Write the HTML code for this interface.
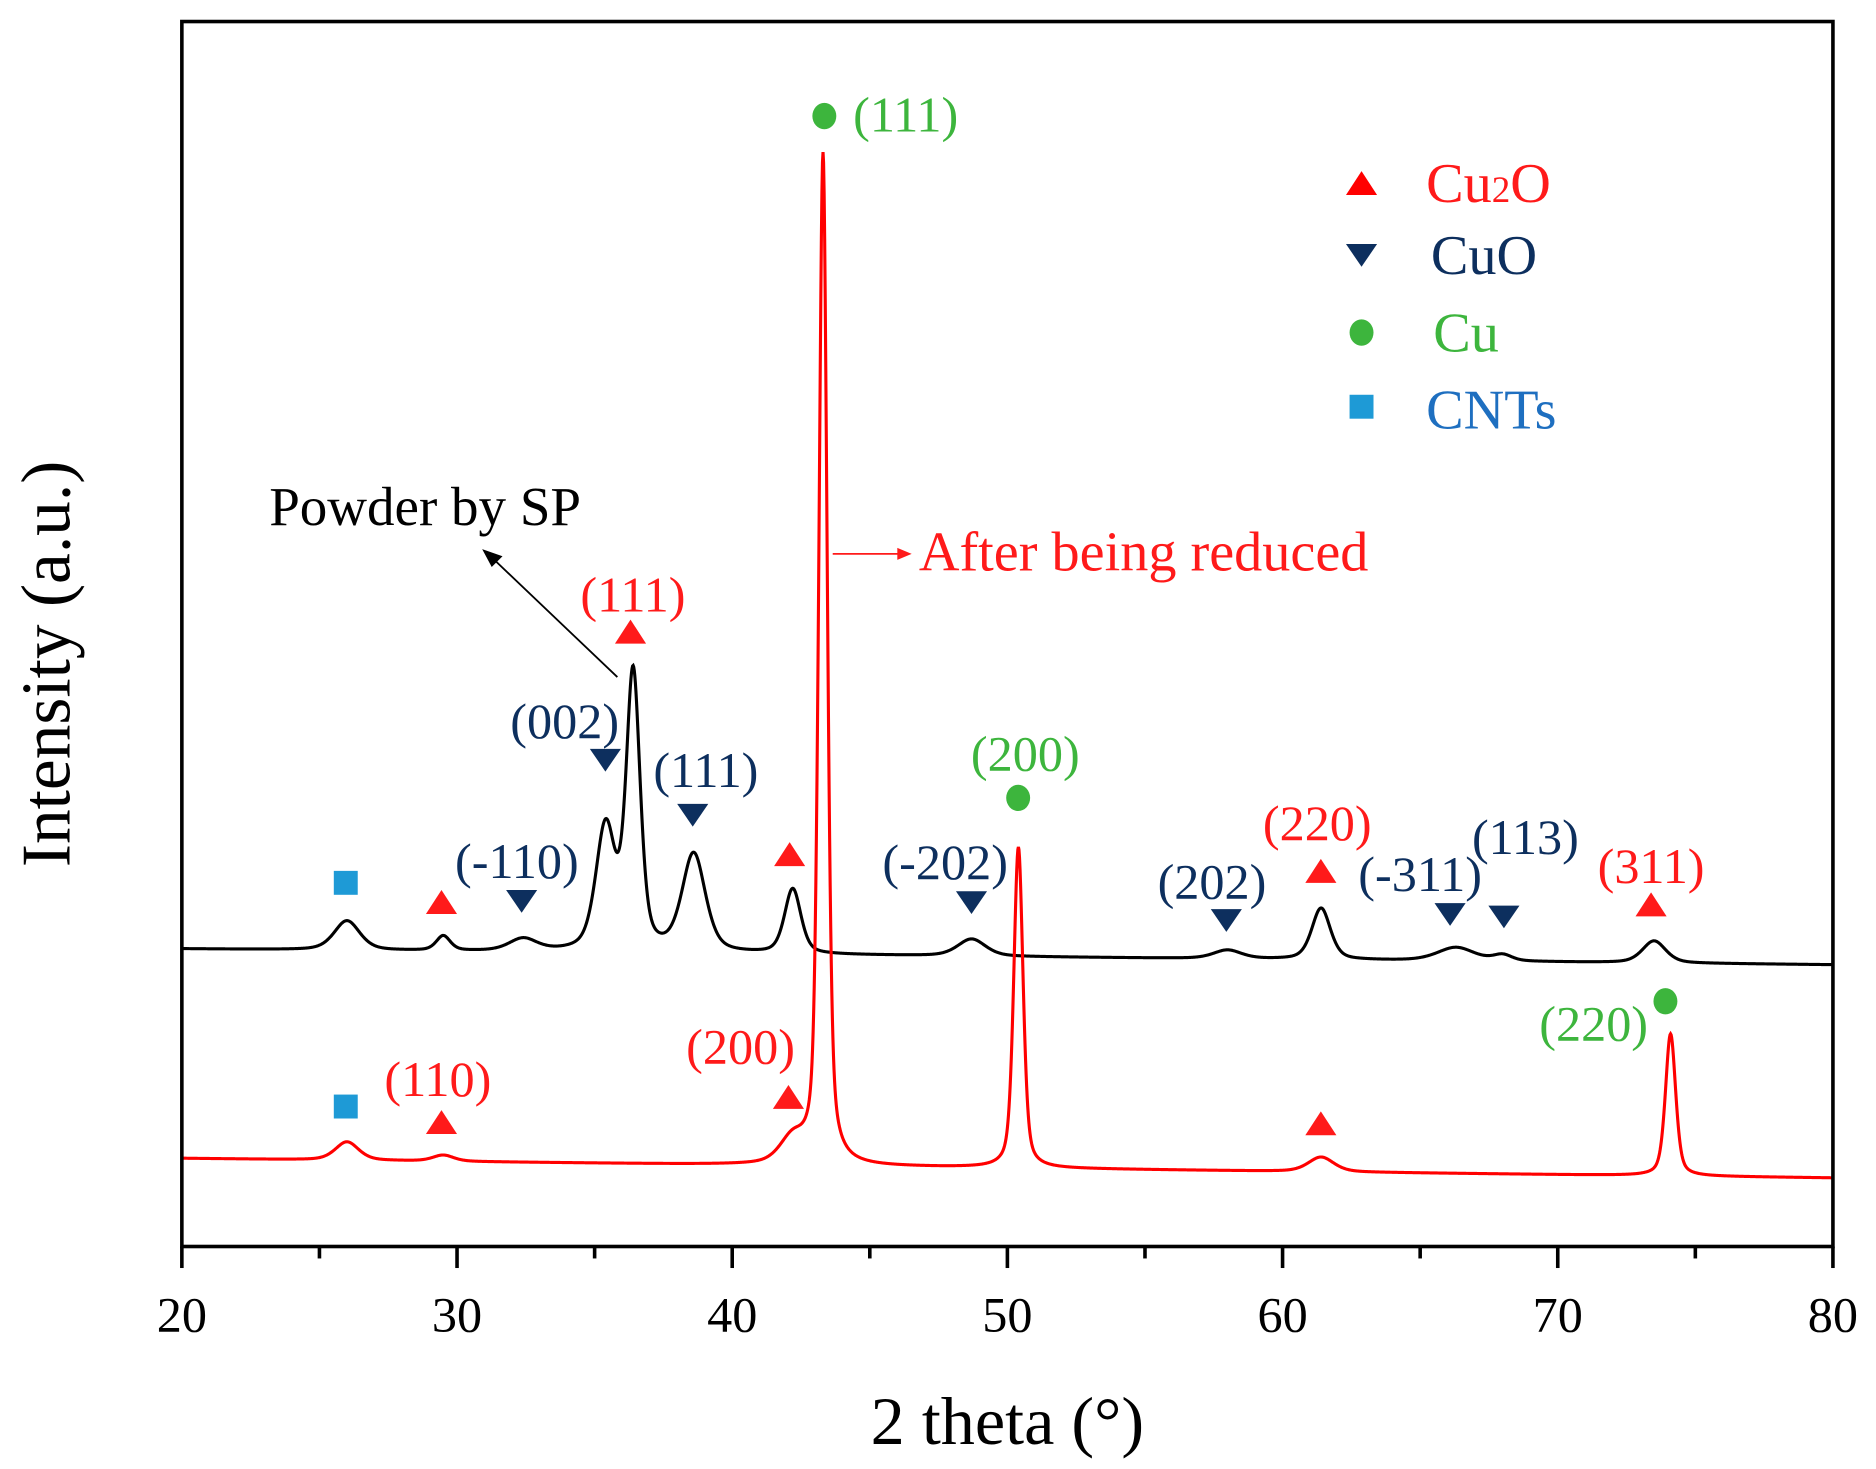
<!DOCTYPE html>
<html><head><meta charset="utf-8"><style>
html,body{margin:0;padding:0;background:#fff;}
svg{display:block;font-family:"Liberation Serif",serif;}
</style></head><body>
<svg id="chart" width="1876" height="1469" viewBox="0 0 1568 1228" preserveAspectRatio="none" xmlns="http://www.w3.org/2000/svg">
<rect x="0" y="0" width="1568" height="1228" fill="#fff"/>
<g id="curves"></g>
<g id="axes"></g>
<g id="annots"></g>
</svg>
<script>
// ---- data ----
const xTicks = [20,30,40,50,60,70,80];
const xMinor = [25,35,45,55,65,75];
// black: Powder by SP
const blackBase = [243, 230];
const blackCenters = [26.0, 29.5, 32.4, 35.4, 36.4, 38.6, 42.2, 48.7, 58.0, 61.4, 66.3, 68.0, 73.5];
const blackHeights = [24, 12, 10, 100, 225, 80, 53, 14, 7, 42, 11, 5, 18];
const blackWidths  = [0.55,0.3,0.6,0.42,0.3,0.5,0.35,0.6,0.6,0.4,0.8,0.4,0.5];
// red: After being reduced
const redBase = [72, 56];
const redCenters = [26.0, 29.5, 42.2, 43.3, 50.4, 61.4, 74.1];
const redHeights = [15, 5, 20, 825, 262, 12, 116];
const redWidths  = [0.5, 0.45, 0.55, 0.18, 0.2, 0.55, 0.22];

const NS="http://www.w3.org/2000/svg";
const X0=152,X1=1532,Y0=1042,Y1=18;
const xs = v => X0 + (v-20)*(X1-X0)/60;
const ys = v => Y0 - v*(Y0-Y1)/1000;
function mk(tag,attrs,parent,text){const e=document.createElementNS(NS,tag);for(const k in attrs)e.setAttribute(k,attrs[k]);if(text!==undefined)e.textContent=text;parent.appendChild(e);return e;}

function profile(x,base,c,h,w){
  let v = base[0] + (base[1]-base[0])*(x-20)/60;
  for(let i=0;i<c.length;i++){
    const d=(x-c[i])/w[i];
    v += h[i]*(0.55*Math.exp(-0.693*d*d) + 0.45/(1+d*d));
  }
  return v;
}
function curvePath(base,c,h,w){
  let d="";
  for(let x=20;x<=80.0001;x+=0.02){
    const v=profile(x,base,c,h,w);
    d += (d?"L":"M")+xs(x).toFixed(2)+","+ys(v).toFixed(2);
  }
  return d;
}
const cg=document.getElementById('curves');
const pb=mk('path',{d:curvePath(blackBase,blackCenters,blackHeights,blackWidths),fill:'none',stroke:'#000','stroke-width':2.6},cg);


const pr=mk('path',{d:curvePath(redBase,redCenters,redHeights,redWidths),fill:'none',stroke:'#ff0000','stroke-width':2.6},cg);



// axes
const ag=document.getElementById('axes');
const fr=mk('rect',{x:X0,y:Y1,width:X1-X0,height:Y0-Y1,fill:'none',stroke:'#000','stroke-width':3},ag);


xTicks.forEach(t=>{
  const l=mk('line',{x1:xs(t),x2:xs(t),y1:Y0,y2:Y0+18,stroke:'#000','stroke-width':3},ag);
  
  
  const tx=mk('text',{x:xs(t),y:Y0+71,'text-anchor':'middle','font-size':42},ag,String(t));
  
  
});
xMinor.forEach(t=>{
  const l=mk('line',{x1:xs(t),x2:xs(t),y1:Y0,y2:Y0+10,stroke:'#000','stroke-width':3},ag);
  
  
});
const xt=mk('text',{x:842,y:1207,'text-anchor':'middle','font-size':57},ag,'2 theta (°)');


const yt=mk('text',{x:0,y:0,'text-anchor':'middle','font-size':58,transform:'translate(58,555) rotate(-90)'},ag,'Intensity (a.u.)');



// annotations
const RED='#ff1a1a',NAVY='#0d2f5e',GREEN='#3db53d',BLUE='#1e9ad6';
const an=document.getElementById('annots');
function up(x,y,col,name){const p=mk('polygon',{points:`${x-13},${y+10} ${x+13},${y+10} ${x},${y-10}`,fill:col},an);}
function dn(x,y,col,name){const p=mk('polygon',{points:`${x-13},${y-9} ${x+13},${y-9} ${x},${y+10}`,fill:col},an);}
function circ(x,y,name){const p=mk('ellipse',{cx:x,cy:y,rx:10,ry:11,fill:GREEN},an);}
function sq(x,y,name){const p=mk('rect',{x:x-10,y:y-10,width:20,height:20,fill:BLUE},an);}
function lbl(x,y,t,col,name,size,anchor){const e=mk('text',{x:x,y:y,fill:col,'font-size':size||42,'text-anchor':anchor||'middle'},an,t);}

sq(289,738,'cnts-marker'); up(369,754,RED,'cu2o-marker');
lbl(432,734,'(-110)',NAVY,'cuo-label'); dn(436,753,NAVY,'cuo-marker');
lbl(472,617,'(002)',NAVY,'cuo-label'); dn(506,635,NAVY,'cuo-marker');
lbl(529,511,'(111)',RED,'cu2o-label'); up(527,528,RED,'cu2o-marker');
lbl(590,658,'(111)',NAVY,'cuo-label'); dn(579,681,NAVY,'cuo-marker');
up(660,714,RED,'cu2o-marker');
lbl(790,735,'(-202)',NAVY,'cuo-label'); dn(812,754,NAVY,'cuo-marker');
lbl(857,644,'(200)',GREEN,'cu-label'); circ(851,667,'cu-marker');
lbl(1013,751,'(202)',NAVY,'cuo-label'); dn(1025,769,NAVY,'cuo-marker');
lbl(1101,702,'(220)',RED,'cu2o-label'); up(1104,728,RED,'cu2o-marker');
lbl(1187,745,'(-311)',NAVY,'cuo-label'); dn(1212,764,NAVY,'cuo-marker');
lbl(1275,714,'(113)',NAVY,'cuo-label'); dn(1257,766,NAVY,'cuo-marker');
lbl(1380,738,'(311)',RED,'cu2o-label'); up(1380,756,RED,'cu2o-marker');
sq(289,925,'cnts-marker');
lbl(366,916,'(110)',RED,'cu2o-label'); up(369,938,RED,'cu2o-marker');
lbl(619,889,'(200)',RED,'cu2o-label'); up(659,917,RED,'cu2o-marker');
circ(689,97,'cu-marker'); lbl(757,110,'(111)',GREEN,'cu-label');
up(1104,939,RED,'cu2o-marker');
circ(1392,837,'cu-marker'); lbl(1332,870,'(220)',GREEN,'cu-label');

// Powder by SP + arrow
lbl(225,439,'Powder by SP','#000','powder-label',46,'start');
const a1=mk('line',{x1:516,y1:566,x2:410,y2:465,stroke:'#000','stroke-width':1.5},an);


const h1=mk('polygon',{points:'403,459 420,465 411,474',fill:'#000'},an);


// After being reduced
lbl(768,477,'After being reduced',RED,'reduced-label',47,'start');
const a2=mk('line',{x1:696,y1:463,x2:752,y2:463,stroke:RED,'stroke-width':1.5},an);


const h2=mk('polygon',{points:'762,463 750,458 750,468',fill:RED},an);



// legend
up(1138,153,'#ff0000','legend-cu2o-marker');
const lt=mk('text',{x:1192,y:169,fill:RED,'font-size':47},an);


lt.appendChild(document.createTextNode('Cu'));
const sub=mk('tspan',{'font-size':31},lt,'2');


lt.appendChild(document.createTextNode('O'));
dn(1138,213,NAVY,'legend-cuo-marker');
lbl(1196,229,'CuO',NAVY,'legend-cuo',47,'start');
circ(1138,278,'legend-cu-marker');
lbl(1198,294,'Cu',GREEN,'legend-cu',47,'start');
sq(1138,340,'legend-cnts-marker');
lbl(1192,358,'CNTs','#1e6fc0','legend-cnts',47,'start');
</script>
</body></html>
